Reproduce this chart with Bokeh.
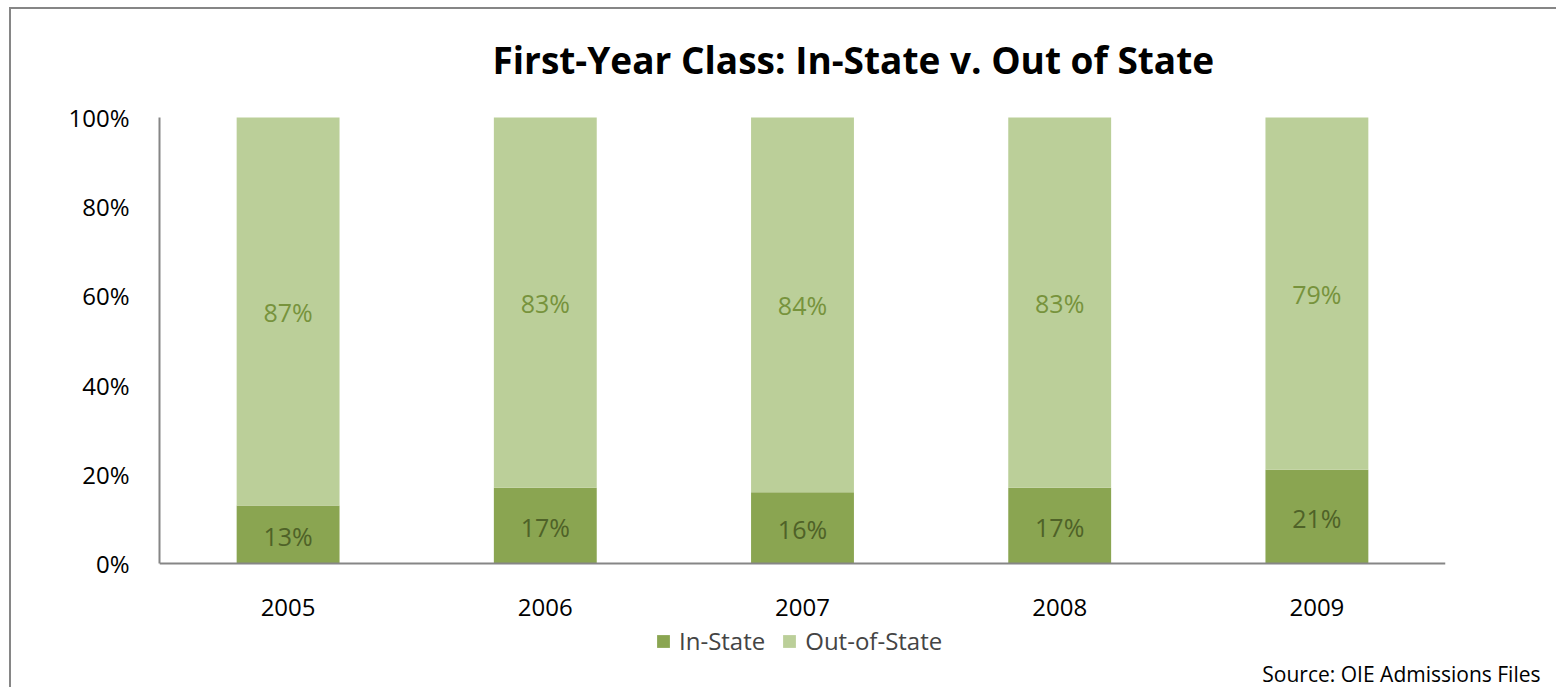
from bokeh.plotting import figure
from bokeh.models import ColumnDataSource, Legend, LegendItem, Title, Label, FixedTicker, NumeralTickFormatter
from bokeh.embed import file_html
from bokeh.resources import INLINE
from bokeh.core.properties import value

years = ["2005", "2006", "2007", "2008", "2009"]
in_state = [13, 17, 16, 17, 21]
out_state = [87, 83, 84, 83, 79]
y_ticks = [0, 0.2, 0.4, 0.6, 0.8, 1.0]
series_names = ["In-State", "Out-of-State"]
title_text = "First-Year Class: In-State v. Out of State"
source_text = "Source: OIE Admissions Files"

C_IN = "#8AA551"
C_OUT = "#BBCF99"
C_IN_TXT = "#4F6228"
C_OUT_TXT = "#77933C"
FONT = "Open Sans"

ins = [v / 100 for v in in_state]
outs = [v / 100 for v in out_state]
src = ColumnDataSource(dict(
    year=years, ins=ins, outs=outs,
    in_mid=[a / 2 for a in ins],
    out_mid=[a + b / 2 for a, b in zip(ins, outs)],
    in_lbl=[f"{v}%" for v in in_state],
    out_lbl=[f"{v}%" for v in out_state],
))

# layout (pixels, relative to the canvas)
W, H = 1547, 680
LEFT, RIGHT, BOTTOM = 148, 113, 32
ZERO_Y = 554                      # pixel row of 0%
PLOT_H = 446                      # pixel height of the 0..100% span
CAT_W = (W - LEFT - RIGHT) / len(years)
frame_h = H - BOTTOM
y_max = ZERO_Y / PLOT_H
y_min = -(frame_h - ZERO_Y) / PLOT_H

p = figure(x_range=years, y_range=(y_min, y_max), width=W, height=H,
           output_backend="svg", toolbar_location=None,
           min_border_left=LEFT, min_border_right=RIGHT,
           min_border_top=0, min_border_bottom=BOTTOM)
p.margin = (7, 0, 0, 9)
p.styles = {"border-left": "2px solid #868686", "border-top": "2px solid #868686"}

# chart title (placed inside the frame, above the 100% line)
title_x = (481 - LEFT) / CAT_W
title_y = y_max - 50 / PLOT_H
p.add_layout(Label(x=title_x, y=title_y, text=title_text, text_align="left",
                   text_baseline="alphabetic", text_font=FONT, text_font_style="bold",
                   text_font_size="37px", text_color="#000000"))

rs = p.vbar_stack(["ins", "outs"], x="year", width=0.40, color=[C_IN, C_OUT],
                  line_color=None, source=src)

p.text(x="year", y="in_mid", text="in_lbl", source=src, text_align="center",
       text_baseline="middle", y_offset=1, text_font=value(FONT), text_font_size="25px",
       text_color=C_IN_TXT)
p.text(x="year", y="out_mid", text="out_lbl", source=src, text_align="center",
       text_baseline="middle", y_offset=0, text_font=value(FONT), text_font_size="25px",
       text_color=C_OUT_TXT)

p.xgrid.grid_line_color = None
p.ygrid.grid_line_color = None
p.outline_line_color = None

p.yaxis.ticker = FixedTicker(ticks=y_ticks)
p.yaxis.formatter = NumeralTickFormatter(format="0%")
p.yaxis.bounds = (0, 1)
p.xaxis.fixed_location = 0
for ax in (p.xaxis[0], p.yaxis[0]):
    ax.axis_line_color = "#868686"
    ax.axis_line_width = 2
    ax.major_tick_line_color = None
    ax.minor_tick_line_color = None
    ax.major_label_text_font = FONT
    ax.major_label_text_font_size = "24px"
    ax.major_label_text_color = "#000000"
p.yaxis.major_label_standoff = 24
p.xaxis.major_label_standoff = 29

legend = Legend(items=[LegendItem(label=series_names[0], renderers=[rs[0]]),
                       LegendItem(label=series_names[1], renderers=[rs[1]])],
                orientation="horizontal", location=(496, 0),
                glyph_width=16, glyph_height=16, label_height=20,
                label_text_font=FONT, label_text_font_size="24px",
                label_standoff=8, spacing=16, padding=0, margin=0,
                border_line_color=None, background_fill_alpha=0)
p.add_layout(legend, "center")

src_title = Title(text=source_text, align="right", offset=-95, standoff=0,
                  text_font=FONT, text_font_size="21px", text_font_style="normal",
                  text_color="#000000")
p.add_layout(src_title, "below")

open("out.html", "w").write(file_html(p, INLINE))
